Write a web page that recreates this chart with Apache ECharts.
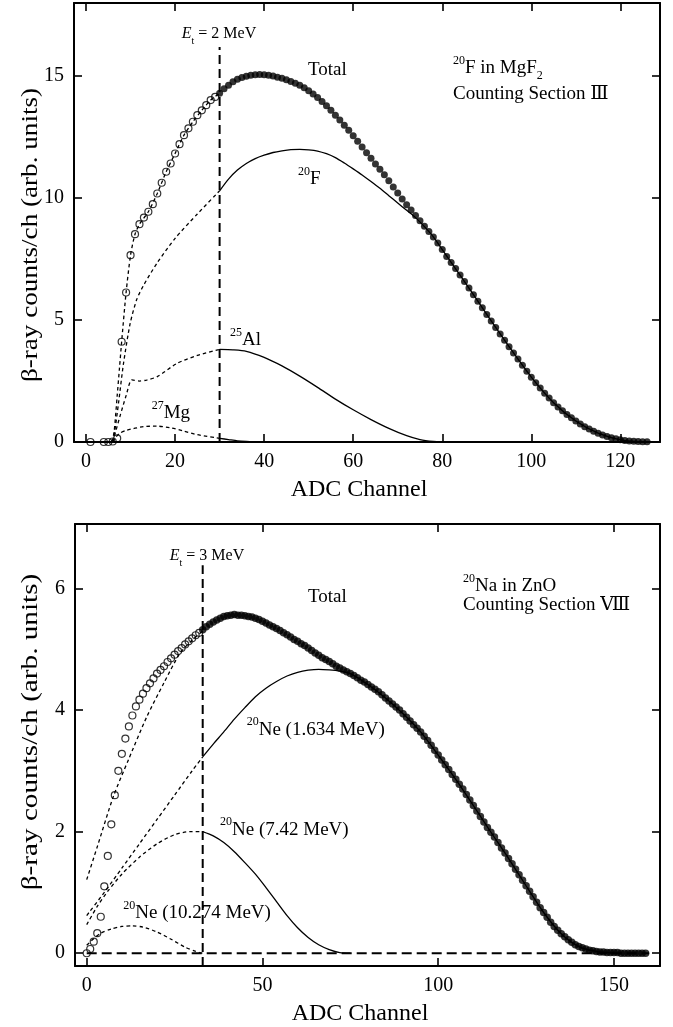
<!DOCTYPE html>
<html><head><meta charset="utf-8">
<script src="https://cdn.jsdelivr.net/npm/echarts@6/dist/echarts.min.js"></script>
<style>html,body{margin:0;padding:0;background:#fff}#c{width:673px;height:1027px}</style>
</head><body><div id="c"></div><script>
// ---------- Top panel data (20F in MgF2) ----------
const topXTicks = [0, 20, 40, 60, 80, 100, 120];
const topYTicks = [0, 5, 10, 15];
const topOpenCh = [1,4,5,6,7,8,9,10,11,12,13,14,15,16,17,18,19,20,21,22,23,24,25,26,27,28,29];
const topOpenCounts = [0,0,0,0.02,0.15,4.11,6.13,7.66,8.52,8.93,9.20,9.44,9.75,10.19,10.63,11.08,11.42,11.83,12.21,12.58,12.86,13.13,13.40,13.60,13.81,14.02,14.15];
const topFilledFirstCh = 30;
const topFilledCounts = [14.30,14.48,14.63,14.77,14.87,14.95,15.00,15.04,15.06,15.07,
 15.06,15.04,15.01,14.96,14.91,14.85,14.78,14.71,14.63,14.52,
 14.40,14.27,14.13,13.96,13.79,13.60,13.40,13.20,12.99,12.78,
 12.56,12.33,12.10,11.86,11.63,11.40,11.18,10.96,10.71,10.46,
 10.21,9.96,9.73,9.51,9.29,9.07,8.85,8.63,8.41,8.16,
 7.89,7.61,7.36,7.11,6.85,6.58,6.31,6.04,5.77,5.50,
 5.23,4.96,4.69,4.43,4.17,3.91,3.65,3.40,3.15,2.90,
 2.66,2.43,2.21,2.00,1.80,1.61,1.44,1.28,1.13,0.99,
 0.86,0.74,0.63,0.53,0.44,0.36,0.29,0.23,0.17,0.13,
 0.09,0.06,0.04,0.03,0.02,0.01,0.01];
const topTotalFitBelow = [[5.8,0],[6.3,0.4],[7,1.9],[7.5,3.0],[8,4.11],[9,6.13],[10,7.66],[11,8.52],[12,8.93],[14,9.44],[16,10.19],[18,11.08],[20,11.83],[22,12.58],[24,13.13],[26,13.6],[28,14.02],[30,14.3]];
const f20Below = [[5.8,0],[6.4,0.4],[7.3,1.6],[8.4,3.2],[9.9,4.85],[11.4,5.85],[13,6.45],[16,7.35],[20,8.35],[25,9.35],[30,10.3]];
const f20Above = [[30,10.3],[32,10.78],[34,11.15],[36,11.42],[38,11.62],[40,11.76],[42,11.87],[44,11.94],[46,11.99],[48,12.0],[50,11.98],[52,11.93],[54,11.82],[56,11.66],[58,11.44],[60,11.2],[62,10.95],[64,10.68],[66,10.4],[68,10.1],[70,9.8],[72,9.5],[74,9.2],[76,8.83],[78,8.41],[80,7.89],[85,6.58],[90,5.23],[95,3.91],[100,2.66],[105,1.61],[110,0.86],[115,0.36],[120,0.09],[125,0.01]];
const al25Below = [[5.9,0],[6.3,0.2],[7.6,1.04],[9,1.9],[10.3,2.55],[12,2.5],[13.6,2.54],[16,2.68],[20.4,3.22],[25,3.55],[30,3.8]];
const al25Above = [[30,3.8],[33,3.78],[36,3.72],[40,3.47],[44,3.12],[48,2.7],[52,2.24],[56,1.76],[60,1.32],[64,0.92],[68,0.56],[72,0.26],[75,0.1],[78,0.02],[80,0]];
const mg27Below = [[6,0],[6.5,0.15],[7.5,0.35],[9.1,0.48],[12.9,0.63],[16,0.65],[19,0.58],[21.9,0.45],[25,0.3],[30,0.15]];
const mg27Above = [[30,0.15],[32,0.1],[34,0.05],[36,0.02],[38,0]];
const topThreshold = [[30,0],[30,16.2]];

// ---------- Bottom panel data (20Na in ZnO) ----------
const botXTicks = [0, 50, 100, 150];
const botYTicks = [0, 2, 4, 6];
const botOpenFirstCh = 0;
const botOpenCounts = [0.00,0.07,0.19,0.33,0.60,1.10,1.60,2.12,2.60,3.00,
 3.28,3.53,3.73,3.91,4.06,4.17,4.27,4.36,4.44,4.52,
 4.60,4.66,4.72,4.79,4.85,4.91,4.97,5.02,5.08,5.13,
 5.18,5.23,5.27];
const botFilledFirstCh = 33;
const botFilledCounts = [5.32,5.37,5.41,5.45,5.48,5.51,5.54,5.55,5.56,5.57,
 5.56,5.56,5.55,5.54,5.53,5.51,5.49,5.46,5.43,5.40,
 5.37,5.34,5.31,5.27,5.24,5.20,5.16,5.13,5.09,5.06,
 5.02,4.98,4.94,4.90,4.86,4.83,4.80,4.76,4.72,4.69,
 4.66,4.63,4.60,4.57,4.53,4.49,4.46,4.42,4.38,4.34,
 4.30,4.25,4.20,4.15,4.10,4.05,4.00,3.94,3.88,3.82,
 3.76,3.70,3.64,3.57,3.50,3.42,3.34,3.26,3.18,3.10,
 3.02,2.94,2.86,2.78,2.70,2.61,2.52,2.43,2.34,2.25,
 2.16,2.07,1.99,1.91,1.82,1.73,1.65,1.56,1.47,1.38,
 1.29,1.20,1.11,1.02,0.93,0.84,0.75,0.67,0.59,0.51,
 0.44,0.38,0.32,0.27,0.22,0.18,0.14,0.11,0.09,0.07,
 0.05,0.04,0.03,0.02,0.02,0.01,0.01,0.01,0.01,0.00,
 0.00,0.00,0.00,0.00,0.00,0.00,0.00];
const botTotalFitBelow = [[0,1.21],[3,1.75],[7.6,2.58],[12,3.2],[17.1,3.89],[22,4.45],[26.5,4.93],[30,5.15],[33,5.3]];
const ne1634Below = [[0,0.62],[5,1.0],[10,1.4],[15,1.8],[20,2.2],[25,2.6],[30,3.0],[33,3.23]];
const ne1634Above = [[33,3.23],[36,3.44],[39,3.64],[42,3.85],[45,4.04],[48,4.22],[51,4.36],[54,4.47],[57,4.56],[60,4.62],[63,4.655],[66,4.67],[69,4.66],[72,4.64],[75,4.6],[80,4.42],[85,4.2],[90,3.94],[95,3.64],[100,3.26],[105,2.86],[110,2.43],[115,1.99],[120,1.56],[125,1.11],[130,0.67],[135,0.32],[140,0.11],[145,0.03],[150,0]];
const ne742Below = [[0,0.47],[3,0.77],[6,1.02],[10,1.3],[15,1.58],[20,1.8],[25,1.95],[29.4,2.0],[33,2.0]];
const ne742Above = [[33,2.0],[36,1.93],[39,1.82],[42,1.67],[45,1.49],[48,1.3],[51,1.08],[54,0.85],[57,0.62],[60,0.42],[63,0.26],[66,0.14],[69,0.06],[72,0.01],[75,0]];
const ne10274Below = [[0,0.13],[2,0.24],[4,0.33],[7,0.4],[10,0.44],[13,0.45],[16,0.43],[20,0.35],[24,0.23],[28,0.1],[31,0.03],[33,0]];
const botZeroLine = [[0,0],[160,0]];
const botThreshold = [[33,-0.21],[33,6.38]];

// ---------- build ----------
const FONT = "'Liberation Serif','Times New Roman','DejaVu Serif',serif";
const seq = (first, vals) => vals.map((v, i) => [first + i, v]);
const pairs = (xs, ys) => xs.map((x, i) => [x, ys[i]]);

function ax(gi, min, max, ticks, pos, labels) {
  return {type:'value', gridIndex:gi, min, max, position:pos,
    axisLine:{show:true, onZero:false, lineStyle:{color:'#000', width:2}},
    axisTick:{show:true, inside:true, length:8, customValues:ticks, lineStyle:{color:'#000', width:1.6}},
    axisLabel:{show:labels, customValues:ticks, color:'#000', fontFamily:FONT, fontSize:20, margin:10},
    splitLine:{show:false}};
}
function ln(a, data, dash, width, smooth) {
  return {type:'line', xAxisIndex:a, yAxisIndex:a, data, symbol:'none', showSymbol:false,
    smooth: smooth === undefined ? 0.25 : smooth, silent:true, z:2,
    lineStyle:{color:'#000', width:width || 1.3, type: dash || 'solid'}};
}
function dots(a, data, open, size) {
  return {type:'scatter', xAxisIndex:a, yAxisIndex:a, data, symbol:'circle', symbolSize:size, silent:true, z:3,
    itemStyle: open ? {color:'rgba(0,0,0,0)', borderColor:'#000', borderWidth:1.2} : {color:'#000'}};
}
const SHORT = [3.5, 3];

const series = [
  ln(0, topThreshold, [9,5], 2, false),
  ln(0, topTotalFitBelow, SHORT),
  ln(0, f20Below, SHORT), ln(0, f20Above),
  ln(0, al25Below, SHORT), ln(0, al25Above),
  ln(0, mg27Below, SHORT), ln(0, mg27Above),
  dots(0, pairs(topOpenCh, topOpenCounts), true, 7),
  dots(0, seq(topFilledFirstCh, topFilledCounts), false, 7),

  ln(2, botThreshold, [9,5], 2, false),
  ln(2, botZeroLine, [10,5], 2, false),
  ln(2, botTotalFitBelow, SHORT),
  ln(2, ne1634Below, SHORT), ln(2, ne1634Above),
  ln(2, ne742Below, SHORT), ln(2, ne742Above),
  ln(2, ne10274Below, SHORT),
  dots(2, seq(botOpenFirstCh, botOpenCounts), true, 7),
  dots(2, seq(botFilledFirstCh, botFilledCounts), false, 7.5)
];

// text helpers
const main = (fs) => ({fontSize:fs, fontFamily:FONT, fill:'#000', lineHeight:fs + 8, verticalAlign:'middle'});
function richFor(fs) {
  return {
    m: main(fs),
    it: Object.assign(main(fs), {fontStyle:'italic'}),
    sup: {fontSize:Math.round(fs*0.65), fontFamily:FONT, fill:'#000', lineHeight:Math.round(fs*0.65), verticalAlign:'top'},
    sub: {fontSize:Math.round(fs*0.65), fontFamily:FONT, fill:'#000', lineHeight:fs, verticalAlign:'bottom'}
  };
}
function T(x, y, text, fs, align, extra) {
  return Object.assign({type:'text', x, y, silent:true, z:10,
    style:{text, align: align || 'left', verticalAlign:'middle', rich:richFor(fs), fontFamily:FONT, fontSize:fs, fill:'#000'}}, extra || {});
}
const graphic = [
  T(219, 34, '{it|E}{sub|t}{m| = 2 MeV}', 16, 'center'),
  T(308, 70, '{m|Total}', 19),
  T(453, 68.5, '{sup|20}{m|F in MgF}{sub|2}', 19),
  T(453, 94, '{m|Counting Section Ⅲ}', 19),
  T(298, 179, '{sup|20}{m|F}', 19),
  T(230, 340.5, '{sup|25}{m|Al}', 19),
  T(151.7, 413, '{sup|27}{m|Mg}', 19),
  T(359, 490, '{m|ADC Channel}', 24, 'center'),
  T(31, 235, '{m|β-ray counts/ch (arb. units)}', 23, 'center', {rotation:Math.PI/2, scaleX:1.18}),

  T(207, 556, '{it|E}{sub|t}{m| = 3 MeV}', 16, 'center'),
  T(308, 597.5, '{m|Total}', 19),
  T(463, 586.5, '{sup|20}{m|Na in ZnO}', 19),
  T(463, 605, '{m|Counting Section Ⅷ}', 19),
  T(246.7, 729.7, '{sup|20}{m|Ne (1.634 MeV)}', 19),
  T(220, 829.7, '{sup|20}{m|Ne (7.42 MeV)}', 19),
  T(123.3, 913, '{sup|20}{m|Ne (10.274 MeV)}', 19),
  T(360, 1014, '{m|ADC Channel}', 24, 'center'),
  T(31, 732, '{m|β-ray counts/ch (arb. units)}', 23, 'center', {rotation:Math.PI/2, scaleX:1.27})
];

const chart = echarts.init(document.getElementById('c'), null, {renderer:'canvas'});
chart.setOption({
  animation:false,
  backgroundColor:'#fff',
  grid:[
    {left:74, top:3, width:586, height:439},
    {left:75, top:524, width:585, height:442}
  ],
  xAxis:[
    ax(0, -2.7, 128.9, topXTicks, 'bottom', true),
    ax(0, -2.7, 128.9, topXTicks, 'top', false),
    ax(1, -3.33, 163.1, botXTicks, 'bottom', true),
    ax(1, -3.33, 163.1, botXTicks, 'top', false)
  ],
  yAxis:[
    ax(0, 0, 18, topYTicks, 'left', true),
    ax(0, 0, 18, topYTicks, 'right', false),
    ax(1, -0.21, 7.06, botYTicks, 'left', true),
    ax(1, -0.21, 7.06, botYTicks, 'right', false)
  ],
  series,
  graphic
});
</script></body></html>
